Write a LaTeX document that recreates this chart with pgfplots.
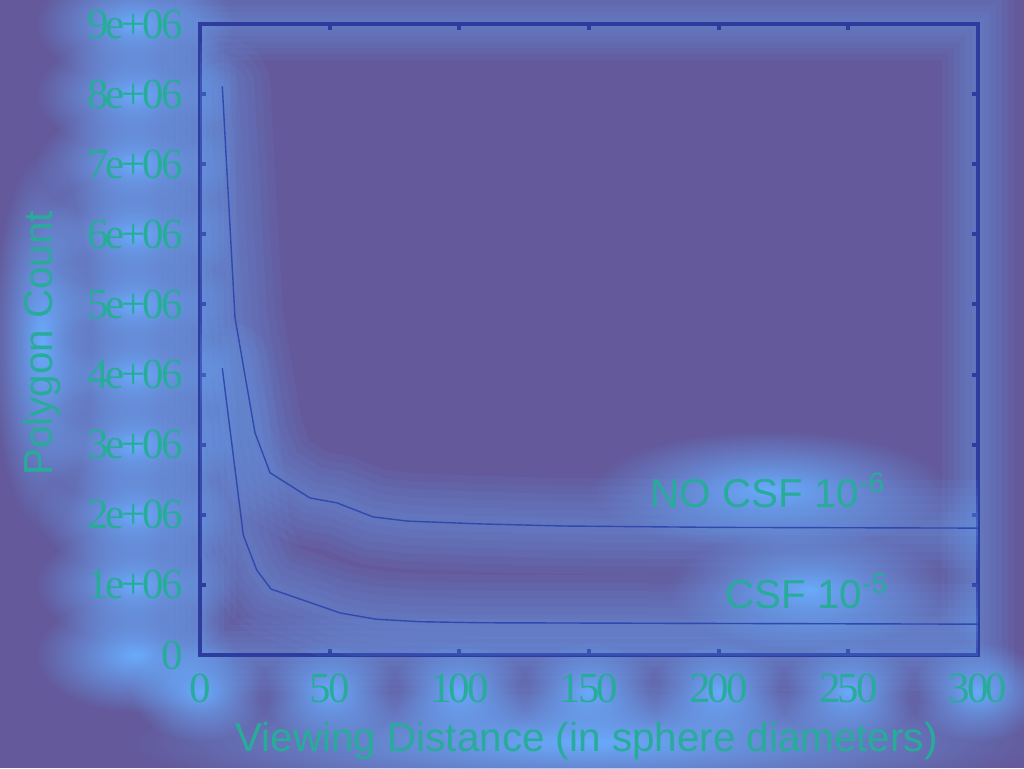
\documentclass[border=0pt]{standalone}
\usepackage{fontspec}
\setmainfont{Liberation Sans}
\newfontfamily\tickfont[LetterSpace=-7]{Liberation Serif}
\usepackage{pgfplots}
\usepackage{pgfplotstable}
\pgfplotsset{compat=1.18}
\usetikzlibrary{fadings}

\definecolor{bgc}{HTML}{63599B}
\definecolor{glowc}{HTML}{69ABFC}
\definecolor{txtc}{HTML}{28AC9A}
\definecolor{axc}{HTML}{2E3C9E}
\definecolor{crv}{HTML}{3049AE}
\tikzfading[name=glowfade, inner color=transparent!0, outer color=transparent!100]

\pgfplotstableread{
x y
8.6 8.11e6
13.5 4.81e6
21.2 3.17e6
27 2.6e6
42.4 2.24e6
52.8 2.17e6
66.7 1.97e6
80 1.91e6
108 1.87e6
140 1.84e6
200 1.82e6
300 1.81e6
}\nocsf
\pgfplotstableread{
x y
8.6 4.09e6
16.7 1.71e6
21.9 1.21e6
27.4 0.94e6
40 0.78e6
54 0.6e6
68 0.51e6
85 0.475e6
108 0.46e6
200 0.45e6
300 0.44e6
}\csf

% soft glow blob, pixel coordinates of the 1024x768 picture
\newcommand\glow[4]{\fill[glowc, path fading=glowfade, fill opacity=1] (#1,#2) ellipse [x radius=#3, y radius=#4];}

\begin{document}
\begin{tikzpicture}
\fill[bgc] (0,0) rectangle (512pt,384pt);
\useasboundingbox (0,0) rectangle (512pt,384pt);
\begin{scope}[x=0.5pt,y=-0.5pt,yshift=384pt]
  % frame glow
  \foreach \w in {6,12,...,36}
    \draw[glowc, line width=\w pt, opacity=0.075] (200,24) rectangle (978,655);
  % y tick labels
  \foreach \i in {0,...,9} {\glow{135}{655-70.1*\i}{100}{58}}
  % x tick labels
  \foreach \i in {0,...,6} {\glow{200+129.7*\i}{692}{70}{50}}
  \glow{587}{742}{460}{60}
  \glow{42}{343}{50}{190}
  \glow{770}{490}{180}{60}
  \glow{808}{590}{140}{60}
\end{scope}
\begin{axis}[
  at={(100pt,56.5pt)}, anchor=south west,
  scale only axis, width=389pt, height=315.5pt,
  xmin=0, xmax=300, ymin=0, ymax=9e6,
  xtick={0,50,...,300}, ytick={0,1e6,...,9e6},
  yticklabels={0,1e+06,2e+06,3e+06,4e+06,5e+06,6e+06,7e+06,8e+06,9e+06},
  scaled y ticks=false,
  axis line style={axc, line width=2pt},
  tick style={axc, line width=2pt},
  major tick length=3pt,
  tick align=inside,
  ticklabel style={font=\tickfont\fontsize{21.5}{24}\selectfont, text=txtc},
  /pgf/number format/assume math mode=true,
  xticklabel shift=6pt, yticklabel shift=5pt,
  label style={font=\fontsize{20.2}{23}\selectfont, text=txtc},
  xlabel={Viewing Distance (in sphere diameters)},
  ylabel={Polygon Count},
  xlabel style={at={(rel axis cs:0.497,-0.137)}, anchor=center},
  ylabel style={at={(rel axis cs:-0.203,0.494)}, anchor=center, rotate=0},
  clip=true,
]
\pgfplotsinvokeforeach{8,16,24,32,40,48}{
  \addplot[glowc, line width=#1pt, opacity=0.075, line cap=round, line join=round, forget plot] table {\nocsf};
  \addplot[glowc, line width=#1pt, opacity=0.075, line cap=round, line join=round, forget plot] table {\csf};
}
\addplot[crv, line width=0.7pt] table {\nocsf};
\addplot[crv, line width=0.7pt] table {\csf};
\node[font=\fontsize{20.2}{23}\selectfont, text=txtc] at (axis cs:219,2.35e6) {NO CSF 10\textsuperscript{-6}};
\node[font=\fontsize{20.2}{23}\selectfont, text=txtc] at (axis cs:234,0.9e6) {CSF 10\textsuperscript{-5}};
\end{axis}
\end{tikzpicture}
\end{document}
